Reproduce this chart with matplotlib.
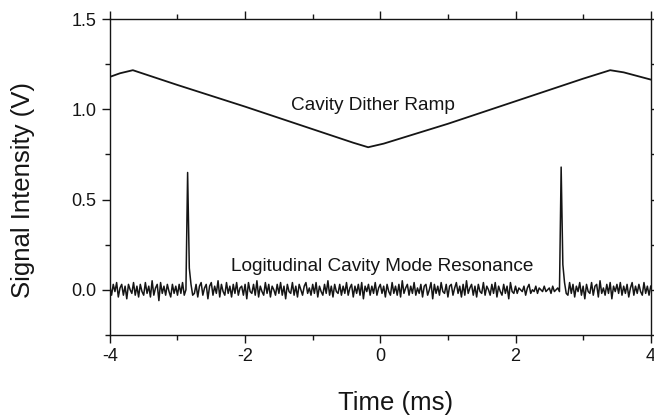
import numpy as np
import matplotlib.pyplot as plt
from matplotlib.ticker import MultipleLocator

plt.rcParams['font.family'] = ['Liberation Sans', 'DejaVu Sans']

# cavity dither ramp (V) vs time (ms)
ramp_t = [-4.0, -3.85, -3.66, -3.0, -2.0, -1.0, -0.4, -0.18, 0.05, 1.0, 2.0, 3.0, 3.40, 3.6, 4.0]
ramp_v = [1.18, 1.20, 1.217, 1.135, 1.015, 0.89, 0.815, 0.79, 0.81, 0.92, 1.045, 1.17, 1.217, 1.205, 1.165]

# longitudinal mode resonance trace, sampled every 0.025 ms from -4 to 4
res_v = [
    0.02, -0.03, 0.03, -0.01, 0.04, -0.04, 0.01, 0.03, -0.03, 0.02, -0.05, 0.03, 0.00, -0.02, 0.04, -0.03, 0.02, -0.04, 0.03, -0.01,
    -0.03, 0.04, -0.02, 0.02, -0.04, 0.05, -0.03, 0.01, 0.03, -0.06, 0.04, -0.02, 0.02, -0.03, 0.03, -0.01, -0.04, 0.03, -0.02, 0.02,
    -0.03, 0.03, -0.02, 0.04, -0.03, 0.00, 0.65, 0.12, 0.03, -0.03, -0.02, 0.03, -0.04, 0.02, 0.04, -0.03, 0.01, 0.03, -0.05, 0.02,
    0.04, -0.03, 0.02, -0.02, 0.05, -0.04, 0.03, -0.01, -0.03, 0.04, -0.02, 0.02, -0.04, 0.03, -0.02, 0.04, -0.03, 0.01, 0.02, -0.03,
    0.03, -0.05, 0.04, -0.01, -0.02, 0.03, -0.03, 0.05, -0.04, 0.02, -0.01, -0.03, 0.04, -0.02, 0.03, -0.04, 0.02, 0.00, -0.03, 0.03,
    -0.02, 0.04, -0.03, 0.02, -0.05, 0.03, -0.01, -0.02, 0.04, -0.03, 0.02, -0.04, 0.03, 0.00, -0.03, 0.02, 0.04, -0.02, 0.01, -0.03,
    0.03, -0.02, 0.04, -0.04, 0.02, -0.01, -0.03, 0.03, -0.02, 0.05, -0.03, 0.02, -0.04, 0.03, -0.01, -0.02, 0.03, -0.03, 0.02, -0.02,
    0.04, -0.03, 0.01, 0.03, -0.04, 0.02, -0.02, 0.03, -0.03, 0.04, -0.05, 0.02, -0.01, 0.03, -0.03, 0.02, -0.02, 0.04, -0.03, 0.01,
    0.03, -0.02, 0.02, -0.04, 0.03, -0.01, -0.03, 0.04, -0.02, 0.02, -0.03, 0.03, -0.04, 0.05, -0.02, 0.01, 0.03, -0.03, 0.02, -0.02,
    0.04, -0.03, 0.01, -0.02, 0.03, -0.04, 0.02, 0.03, -0.03, 0.00, 0.04, -0.05, 0.03, -0.02, 0.02, -0.03, 0.04, -0.01, -0.02, 0.03,
    -0.04, 0.02, 0.03, -0.03, 0.01, 0.04, -0.02, 0.02, -0.04, 0.03, -0.03, 0.05, -0.02, 0.01, 0.03, -0.03, 0.02, -0.04, 0.03, -0.01,
    -0.02, 0.04, -0.03, 0.02, 0.00, -0.03, 0.03, -0.02, 0.04, -0.04, 0.02, -0.01, -0.03, 0.03, -0.02, 0.02, -0.05, 0.04, -0.01, -0.02,
    0.02, -0.02, 0.01, 0.00, -0.01, 0.02, -0.03, 0.01, 0.03, -0.02, 0.00, -0.01, 0.02, -0.02, 0.01, 0.00, -0.01, 0.02, -0.01, 0.00,
    0.01, -0.02, 0.02, -0.01, 0.00, 0.01, -0.01, 0.68, 0.14, 0.04, -0.02, -0.03, 0.04, -0.02, 0.03, -0.04, 0.02, -0.01, 0.04, -0.03,
    0.02, -0.05, 0.03, -0.01, -0.02, 0.04, -0.03, 0.02, 0.03, -0.04, 0.05, -0.02, 0.01, -0.03, 0.03, -0.02, 0.04, -0.05, 0.02, -0.01,
    0.03, -0.02, 0.04, -0.03, 0.02, -0.02, 0.03, -0.04, 0.01, 0.04, -0.03, 0.02, -0.02, 0.03, -0.01, -0.03, 0.04, -0.02, 0.02, -0.03,
    0.02,
]
res_t = np.linspace(-4, 4, len(res_v))

ink = '#151515'

fig = plt.figure(figsize=(6.54, 4.16), dpi=100)
ax = fig.add_axes([0.168, 0.195, 0.827, 0.759])

ax.plot(ramp_t, ramp_v, color=ink, linewidth=1.3)
ax.plot(res_t, res_v, color=ink, linewidth=1.1)

ax.text(-0.115, 0.996, 'Cavity Dither Ramp', ha='center', va='baseline', fontsize=13.7, color=ink)
ax.text(0.03, 0.105, 'Logitudinal Cavity Mode Resonance', ha='center', va='baseline', fontsize=13.7, color=ink)

ax.set_xlim(-4, 4)
ax.set_ylim(-0.25, 1.5)
ax.xaxis.set_major_locator(MultipleLocator(2))
ax.xaxis.set_minor_locator(MultipleLocator(1))
ax.yaxis.set_major_locator(MultipleLocator(0.5))
ax.yaxis.set_minor_locator(MultipleLocator(0.25))
ax.xaxis.set_major_formatter(plt.FuncFormatter(lambda v, p: '%d' % v))
ax.yaxis.set_major_formatter(plt.FuncFormatter(lambda v, p: '%.1f' % v))

ax.tick_params(which='both', direction='out', top=True, right=True, width=1, colors=ink, labelsize=13)
ax.tick_params(which='major', length=6, pad=3.5)
ax.tick_params(which='minor', length=3.6)
for s in ax.spines.values():
    s.set_linewidth(1.0)
    s.set_color(ink)

fig.text(396 / 654, 1 - 410 / 416, 'Time (ms)', ha='center', va='baseline', fontsize=18.5, color=ink)
fig.text(23 / 654, 1 - 190 / 416, 'Signal Intensity (V)', ha='center', va='center',
         rotation=90, fontsize=18.5, color=ink)

fig.savefig('out.png', dpi=100)
